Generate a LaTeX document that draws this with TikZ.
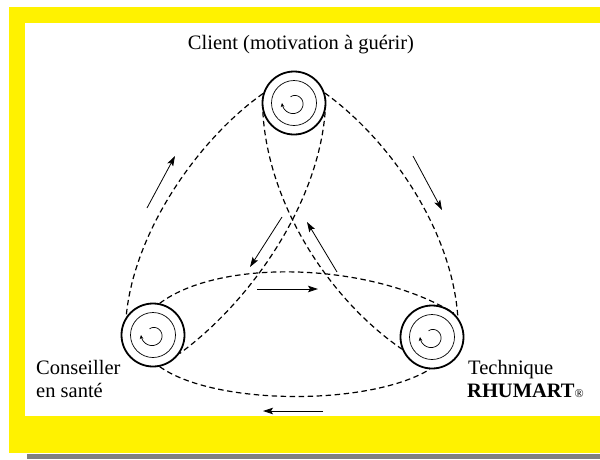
\documentclass[tikz,border=0pt]{standalone}
\usepackage{fontspec}
\setmainfont{Liberation Serif}
\usetikzlibrary{arrows.meta}

\begin{document}
\begin{tikzpicture}[x=1pt,y=-1pt,
    wheel/.style={circle, draw, line width=1.8pt, minimum size=63pt, inner sep=0pt, fill=white},
    belt/.style={dash pattern=on 5.5pt off 3.5pt, line width=1.2pt},
    flow/.style={line width=0.8pt, -{Stealth[length=10pt,width=6.5pt,inset=2pt]}},
    lbl/.style={font=\fontsize{20.5}{24}\selectfont, inner sep=0pt}]
    % Frame: yellow border, white sheet, grey shadow
    \useasboundingbox (0,0) rectangle (600,459);
    \fill[yellow] (9,7) rectangle (600,453);
    \fill[white] (25,23) rectangle (600,416);
    \fill[black!50] (27,454) rectangle (600,459);

    % The three wheels
    \node[wheel] (client) at (294,103) {};
    \node[wheel] (conseiller) at (153,335) {};
    \node[wheel] (technique) at (432,337) {};

    % Inner ring and spiral of each wheel
    \foreach \w in {client,conseiller,technique} {
        \draw[line width=0.7pt] (\w) circle[radius=22.5pt];
        \begin{scope}[shift={(\w)}]
            \draw[line width=0.7pt, -{Stealth[length=4pt,width=3.5pt]}]
                plot[domain=-120:180, samples=50] (\x:{7+5*(\x+120)/300});
        \end{scope}
    }

    % Dashed belts between the wheels
    \draw[belt] (client.163) .. controls (200,138) and (134,230) .. (conseiller.146);
    \draw[belt] (client.18) .. controls (390,140) and (452,230) .. (technique.37);
    \draw[belt] (client.196) .. controls (268,205) and (330,300) .. (technique.202);
    \draw[belt] (client.344) .. controls (318,205) and (250,302) .. (conseiller.325);
    \draw[belt] (conseiller.78) .. controls (220,258) and (370,262) .. (technique.48);
    \draw[belt] (conseiller.282) .. controls (215,406) and (370,406) .. (technique.266);

    % Direction arrows
    \coordinate (upT) at (147,208);   \coordinate (upH) at (175,156);
    \coordinate (downT) at (413,156); \coordinate (downH) at (442,210);
    \coordinate (inLT) at (282,217);  \coordinate (inLH) at (250,267);
    \coordinate (inRT) at (337,272);  \coordinate (inRH) at (307,222);
    \coordinate (midT) at (257,289);  \coordinate (midH) at (318,289);
    \coordinate (botT) at (323,411);  \coordinate (botH) at (263,411);
    \draw[flow] (upT) -- (upH);
    \draw[flow] (downT) -- (downH);
    \draw[flow] (inLT) -- (inLH);
    \draw[flow] (inRT) -- (inRH);
    \draw[flow] (midT) -- (midH);
    \draw[flow] (botT) -- (botH);

    % Labels
    \node[lbl, anchor=base] (clientlbl) at (301,49) {Client (motivation à guérir)};
    \node[lbl, anchor=base west] (conseil1) at (36,374) {Conseiller};
    \node[lbl, anchor=base west] (conseil2) at (36,397) {en santé};
    \node[lbl, anchor=base west] (tech1) at (468,374) {Technique};
    \node[lbl, anchor=base west] (tech2) at (467,397) {\bfseries RHUMART{\mdseries\fontsize{12}{12}\selectfont ®}};
\end{tikzpicture}
\end{document}
